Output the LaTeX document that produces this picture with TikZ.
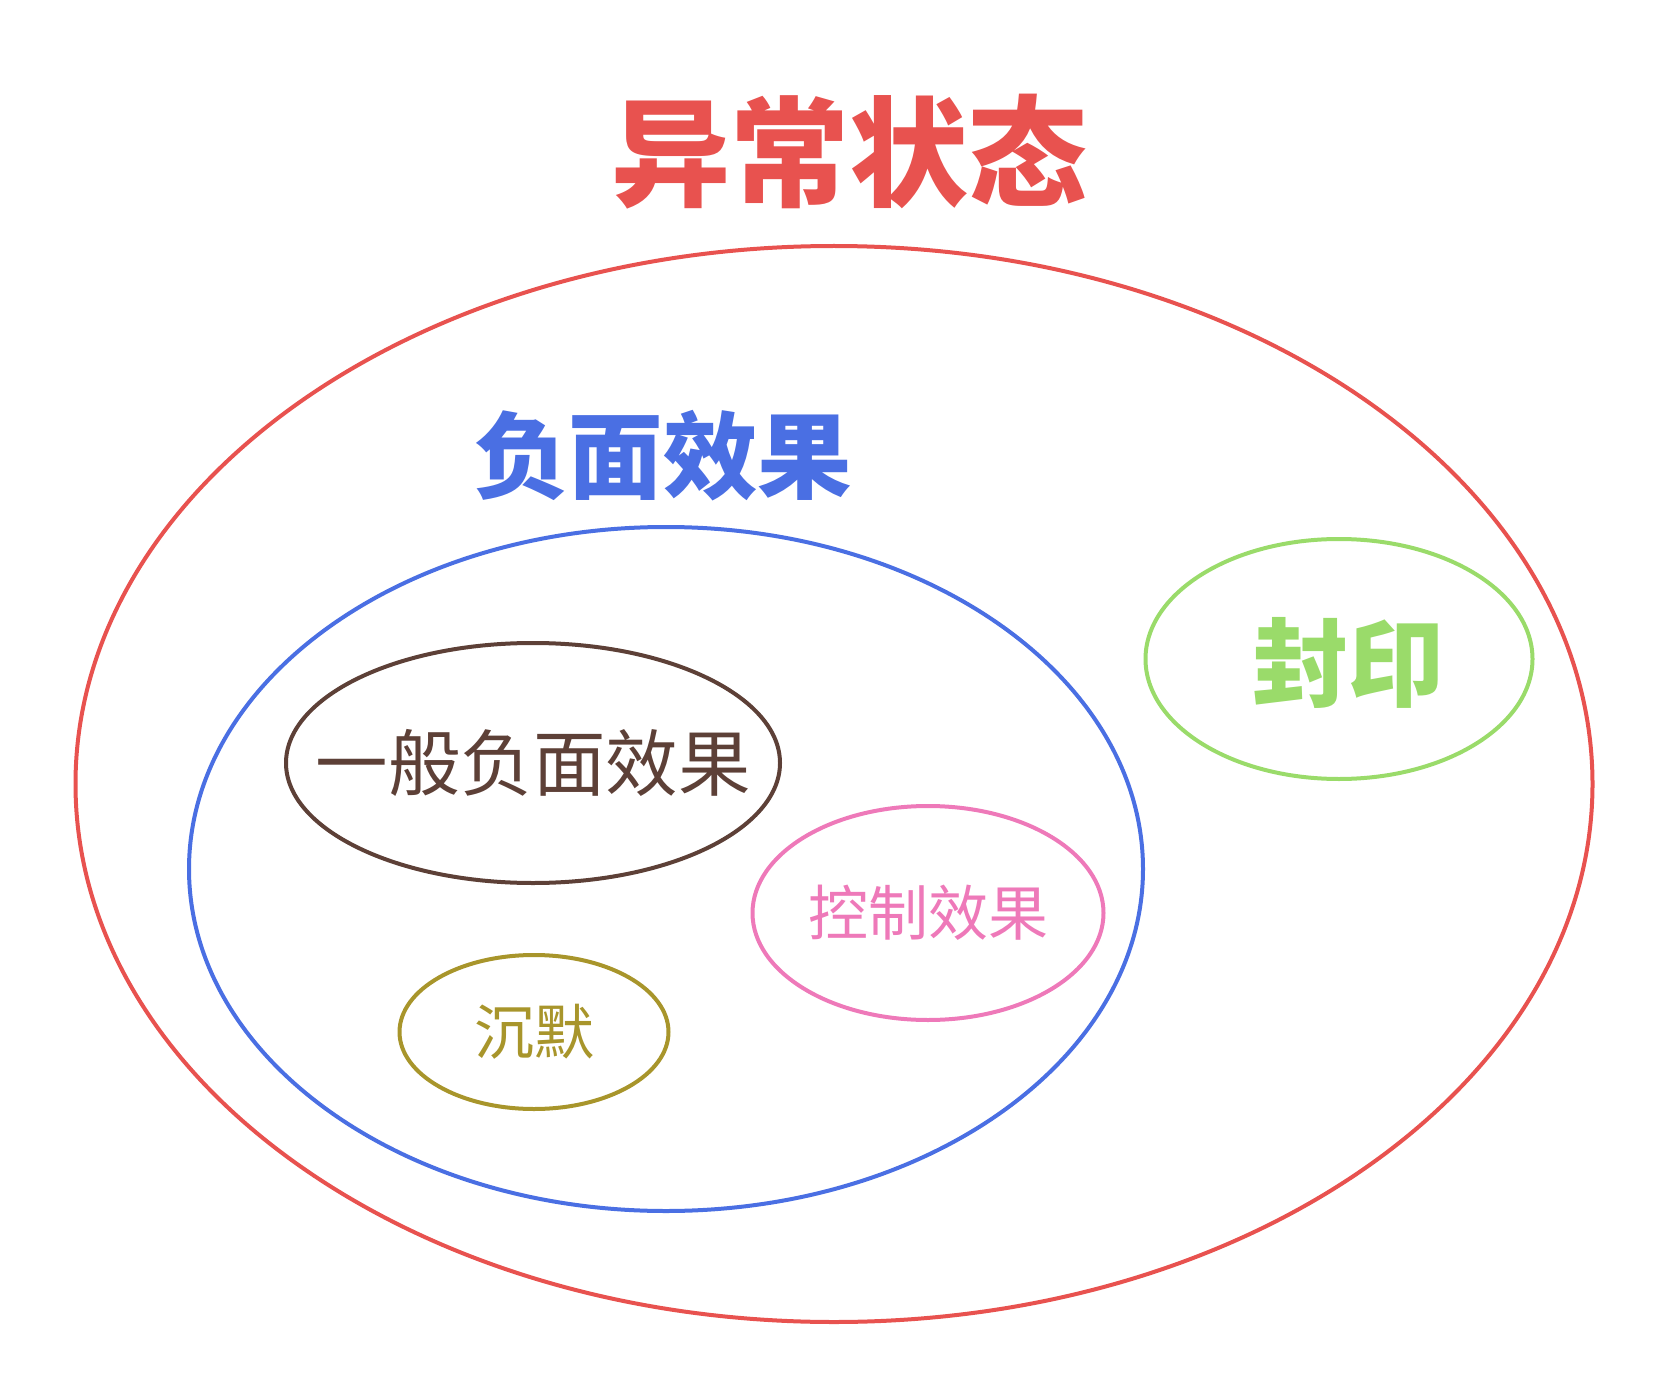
\documentclass[tikz,border=0pt]{standalone}
\usepackage{fontspec}
\newfontfamily\cjk{Noto Sans CJK SC}
\usetikzlibrary{shapes.geometric, positioning}
\definecolor{redset}{HTML}{E8524F}
\definecolor{blueset}{HTML}{4A6FE3}
\definecolor{greenset}{HTML}{9ADB6A}
\definecolor{brownset}{HTML}{5D4037}
\definecolor{pinkset}{HTML}{EE79B9}
\definecolor{oliveset}{HTML}{A8952B}

\begin{document}
\begin{tikzpicture}[x=1pt, y=-1pt,
    setshape/.style={draw, ellipse, line width=4pt, inner sep=0pt},
    settext/.style={font=\cjk\fontsize{#1}{#1}\selectfont},
    settitle/.style={font=\cjk\bfseries\fontsize{#1}{#1}\selectfont}]
\useasboundingbox (0,0) rectangle (1668,1396);

\node[setshape, draw=redset, minimum width=1517pt, minimum height=1076pt] (state) at (834,784) {};
\node[settitle=119, text=redset] (statename) at (849,152) {异常状态};

\node[setshape, draw=blueset, minimum width=954pt, minimum height=684pt] (neg) at (666,869) {};
\node[settitle=94.5, text=blueset] (negname) at (663,456) {负面效果};

\node[setshape, draw=greenset, minimum width=387pt, minimum height=240pt] (seal) at (1339,659) {};
\node[settitle=96, text=greenset] (sealname) at (1348,663) {封印};

\node[setshape, draw=brownset, minimum width=494pt, minimum height=240pt] (general) at (533,763) {};
\node[settext=72.5, text=brownset] (generalname) at (general) {一般负面效果};

\node[setshape, draw=pinkset, minimum width=351pt, minimum height=214pt] (control) at (928,913) {};
\node[settext=60, text=pinkset] (controlname) at (control) {控制效果};

\node[setshape, draw=oliveset, minimum width=269pt, minimum height=154pt] (silence) at (534,1032) {};
\node[settext=60, text=oliveset] (silencename) at (silence) {沉默};
\end{tikzpicture}
\end{document}
